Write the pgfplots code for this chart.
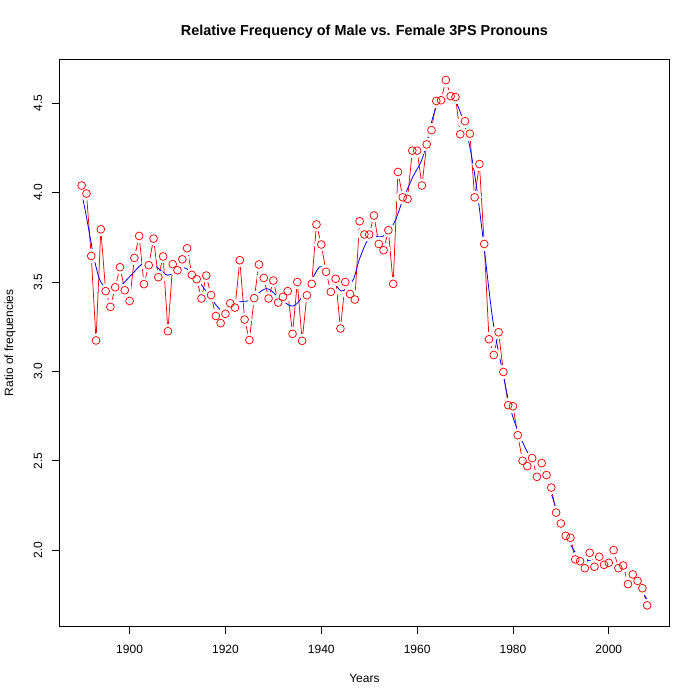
\documentclass[border=0pt]{standalone}
\usepackage{pgfplots}
\pgfplotsset{compat=1.18}
\usepackage{pgfplotstable}
\usepackage{fontspec}
\setmainfont{Liberation Sans}
\definecolor{rred}{RGB}{255,0,0}
\definecolor{rblue}{RGB}{0,0,255}
\pgfplotstableread{
year val
1890 4.04
1891 3.995
1892 3.646
1893 3.173
1894 3.795
1895 3.449
1896 3.361
1897 3.471
1898 3.583
1899 3.454
1900 3.394
1901 3.635
1902 3.758
1903 3.488
1904 3.594
1905 3.743
1906 3.527
1907 3.643
1908 3.225
1909 3.60
1910 3.566
1911 3.627
1912 3.689
1913 3.54
1914 3.516
1915 3.408
1916 3.536
1917 3.427
1918 3.31
1919 3.27
1920 3.322
1921 3.381
1922 3.357
1923 3.622
1924 3.29
1925 3.175
1926 3.41
1927 3.598
1928 3.523
1929 3.408
1930 3.508
1931 3.385
1932 3.417
1933 3.449
1934 3.21
1935 3.50
1936 3.171
1937 3.426
1938 3.49
1939 3.822
1940 3.71
1941 3.557
1942 3.445
1943 3.518
1944 3.24
1945 3.50
1946 3.433
1947 3.402
1948 3.84
1949 3.766
1950 3.766
1951 3.872
1952 3.713
1953 3.678
1954 3.79
1955 3.49
1956 4.116
1957 3.974
1958 3.965
1959 4.235
1960 4.235
1961 4.04
1962 4.27
1963 4.35
1964 4.513
1965 4.517
1966 4.63
1967 4.54
1968 4.535
1969 4.327
1970 4.40
1971 4.33
1972 3.974
1973 4.16
1974 3.713
1975 3.18
1976 3.092
1977 3.219
1978 2.997
1979 2.811
1980 2.805
1981 2.643
1982 2.50
1983 2.47
1984 2.515
1985 2.41
1986 2.487
1987 2.42
1988 2.35
1989 2.21
1990 2.149
1991 2.08
1992 2.069
1993 1.948
1994 1.938
1995 1.899
1996 1.985
1997 1.907
1998 1.963
1999 1.918
2000 1.929
2001 2.00
2002 1.899
2003 1.914
2004 1.81
2005 1.864
2006 1.828
2007 1.787
2008 1.691
}\ratio
\pgfplotstableread{
year val
1890 4.00
1891 3.864
1892 3.715
1893 3.585
1894 3.50
1895.8 3.458
1897.9 3.473
1900.3 3.538
1903.1 3.609
1905.6 3.585
1908 3.538
1911.3 3.58
1913.2 3.538
1915.3 3.473
1918.8 3.348
1920.5 3.345
1923 3.389
1925 3.398
1928.5 3.463
1931 3.417
1934.1 3.365
1936.9 3.454
1939.7 3.585
1941.8 3.538
1944.2 3.45
1946.6 3.51
1948 3.631
1950.1 3.752
1952.2 3.752
1953.6 3.77
1955.3 3.836
1957 3.957
1959.1 4.088
1961.2 4.20
1963.3 4.423
1964.7 4.517
1966.5 4.55
1967.8 4.526
1969.6 4.405
1971 4.256
1972.4 4.032
1973.8 3.734
1975.8 3.286
1977.9 2.99
1979.3 2.81
1980.7 2.69
1982.8 2.559
1984.2 2.50
1985.6 2.447
1987.7 2.336
1989.8 2.168
1991.9 2.037
1994 1.953
1995.3 1.938
1996 1.944
1998.8 1.938
2000.2 1.938
2002.3 1.916
2004.4 1.87
2006.5 1.795
2008 1.72
}\smoothed
\begin{document}
\begin{tikzpicture}
\useasboundingbox (0,0) rectangle (700bp,700bp);
\begin{axis}[
  at={(59.04bp,73.44bp)}, anchor=south west,
  width=610.72bp, height=567.52bp, scale only axis,
  xmin=1885.28, xmax=2012.72, ymin=1.5724, ymax=4.7476,
  xtick={1900,1920,1940,1960,1980,2000},
  ytick={2,2.5,3,3.5,4,4.5},
  tick pos=left, tick align=outside, major tick length=7.2bp,
  axis line style={line width=0.75bp, black},
  every tick/.style={line width=0.75bp, black},
  /pgf/number format/assume math mode=true,
  tick label style={font=\fontsize{12bp}{14bp}\selectfont},
  xticklabel style={anchor=base, yshift=-20bp, /pgf/number format/1000 sep={}},
  yticklabel style={anchor=base, xshift=-9.8bp, rotate=90,
    /pgf/number format/.cd, fixed, fixed zerofill, precision=1},
  xlabel={Years},
  ylabel={Ratio of frequencies},
  every axis x label/.style={at={(axis description cs:0.5,0)}, anchor=base, yshift=-55.5bp, font=\fontsize{12bp}{14bp}\selectfont},
  every axis y label/.style={at={(axis description cs:0,0.5)}, anchor=base, xshift=-46bp, rotate=90, font=\fontsize{12bp}{14bp}\selectfont},
  title={Relative Frequency of Male vs. Female 3PS Pronouns},
  every axis title/.style={at={(axis description cs:0.5,1)}, anchor=base, yshift=24bp, font=\bfseries\fontsize{14.4bp}{17bp}\selectfont},
]
\addplot[rred, line width=0.75bp, no marks] table[x=year, y=val] {\ratio};
\addplot[draw=none, only marks, mark=*, mark size=6.5bp, mark options={fill=white, draw=white, line width=0pt}] table[x=year, y=val] {\ratio};
\addplot[only marks, mark=o, mark size=3.9bp, rred, mark options={line width=0.75bp}] table[x=year, y=val] {\ratio};
\addplot[rblue, line width=0.8bp, smooth, tension=0.55, no marks] table[x=year, y=val] {\smoothed};
\end{axis}
\end{tikzpicture}
\end{document}
